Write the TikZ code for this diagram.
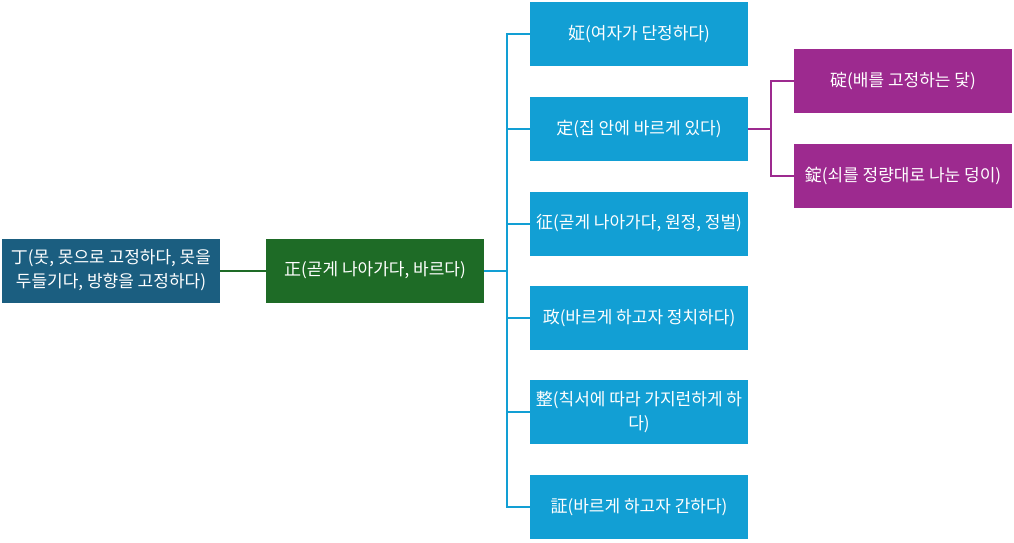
\documentclass[tikz,border=0pt]{standalone}
\usepackage{fontspec}
\setmainfont{Noto Sans CJK KR}
\definecolor{rootc}{HTML}{1B5E80}
\definecolor{greenc}{HTML}{1E6B26}
\definecolor{bluec}{HTML}{129FD4}
\definecolor{purplec}{HTML}{9D2A8F}
\tikzset{
  box/.style={rectangle, minimum width=218pt, minimum height=64pt, inner sep=2pt, text=white, align=center, font=\fontsize{17pt}{24pt}\selectfont},
  rootbox/.style={box, fill=rootc},
  greenbox/.style={box, fill=greenc},
  bluebox/.style={box, fill=bluec},
  purplebox/.style={box, fill=purplec},
  gline/.style={draw=greenc, line width=2pt},
  bline/.style={draw=bluec, line width=2pt},
  pline/.style={draw=purplec, line width=2pt},
}
\begin{document}
\begin{tikzpicture}[x=1pt,y=-1pt]
\useasboundingbox (0,0) rectangle (1014,542);
\node[rootbox] (root) at (111,270.5) {丁(못, 못으로 고정하다, 못을\\두들기다, 방향을 고정하다)};
\node[greenbox] (g) at (375,270.5) {正(곧게 나아가다, 바르다)};
\node[bluebox] (b1) at (639,34) {姃(여자가 단정하다)};
\node[bluebox] (b2) at (639,129) {定(집 안에 바르게 있다)};
\node[bluebox] (b3) at (639,223.5) {征(곧게 나아가다, 원정, 정벌)};
\node[bluebox] (b4) at (639,318) {政(바르게 하고자 정치하다)};
\node[bluebox] (b5) at (639,412) {整(칙서에 따라 가지런하게 하\\다)};
\node[bluebox] (b6) at (639,507) {証(바르게 하고자 간하다)};
\node[purplebox] (p1) at (903,81) {碇(배를 고정하는 닻)};
\node[purplebox] (p2) at (903,176) {錠(쇠를 정량대로 나눈 덩이)};
\coordinate (bus) at (507,270.5);
\coordinate (pbus) at (771,129);
\draw[gline] (root.east) -- (g.west);
\draw[bline] (g.east) -- (bus);
\foreach \n in {b1,b2,b3,b4,b5,b6} \draw[bline] (bus) |- (\n.west);
\draw[pline] (b2.east) -- (pbus);
\draw[pline] (pbus) |- (p1.west);
\draw[pline] (pbus) |- (p2.west);
\end{tikzpicture}
\end{document}
